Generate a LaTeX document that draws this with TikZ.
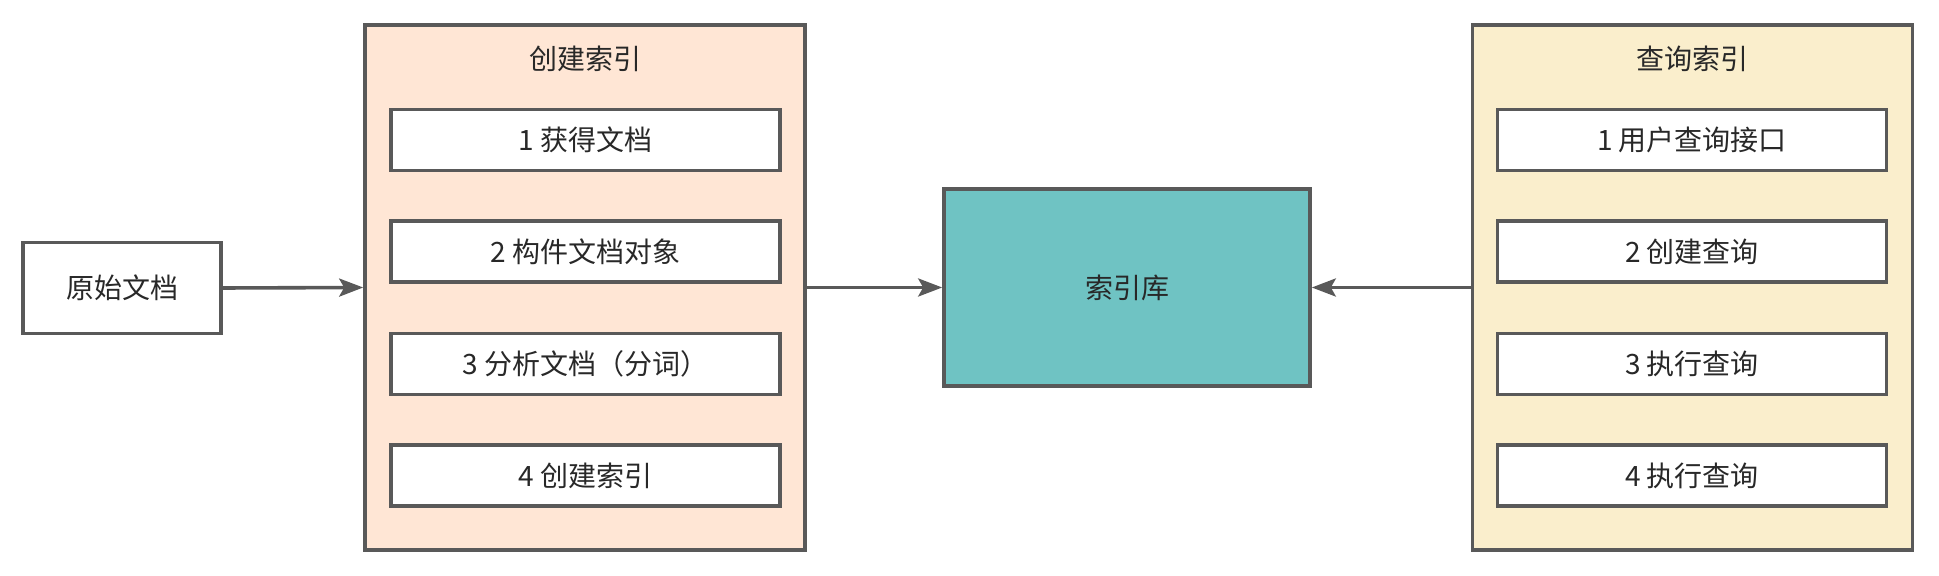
\documentclass[tikz,border=0pt]{standalone}
\usepackage{fontspec}
\setmainfont{Noto Sans CJK SC}
\usepackage{tikz}
\usetikzlibrary{arrows.meta,positioning}
\definecolor{linegray}{RGB}{89,89,89}
\definecolor{textgray}{RGB}{40,40,40}
\definecolor{peach}{RGB}{255,230,213}
\definecolor{cream}{RGB}{250,238,204}
\definecolor{teal}{RGB}{111,195,195}

\tikzset{
  boxline/.style={draw=linegray, line width=1.8pt, text=textgray},
  stepbox/.style={boxline, fill=white, minimum width=194.5pt, minimum height=30.5pt},
  groupbox/.style={boxline, minimum width=220pt, minimum height=262.5pt},
  flow/.style={draw=linegray, line width=1.8pt, -{Stealth[length=12pt,width=9pt,inset=2.5pt]}}
}

\begin{document}
\begin{tikzpicture}[x=0.5pt, y=-0.5pt, font=\fontsize{14pt}{17pt}\selectfont]
    \useasboundingbox (0,0) rectangle (1939,576);

    % source document
    \node[boxline, fill=white, minimum width=99pt, minimum height=45.5pt] (doc) at (122,288) {原始文档};

    % building the index
    \node[groupbox, fill=peach] (build) at (585,287.5) {};
    \node[text=textgray] (buildtitle) at (585,59) {创建索引};
    \node[stepbox] (b1) at (585.5,140) {1 获得文档};
    \node[stepbox] (b2) at (585.5,251.5) {2 构件文档对象};
    \node[stepbox] (b3) at (585.5,364) {3 分析文档（分词）};
    \node[stepbox] (b4) at (585.5,475.5) {4 创建索引};

    % index store
    \node[boxline, fill=teal, minimum width=183pt, minimum height=98.5pt] (lib) at (1127,287.5) {索引库};

    % querying the index
    \node[groupbox, fill=cream] (query) at (1692.5,287.5) {};
    \node[text=textgray] (querytitle) at (1692.5,59) {查询索引};
    \node[stepbox] (q1) at (1692,140) {1 用户查询接口};
    \node[stepbox] (q2) at (1692,251.5) {2 创建查询};
    \node[stepbox] (q3) at (1692,364) {3 执行查询};
    \node[stepbox] (q4) at (1692,475.5) {4 执行查询};

    % arrows
    \draw[flow] (doc.east) -- (build.west);
    \draw[flow] (build.east) -- (lib.west);
    \draw[flow] (query.west) -- (lib.east);
\end{tikzpicture}
\end{document}
